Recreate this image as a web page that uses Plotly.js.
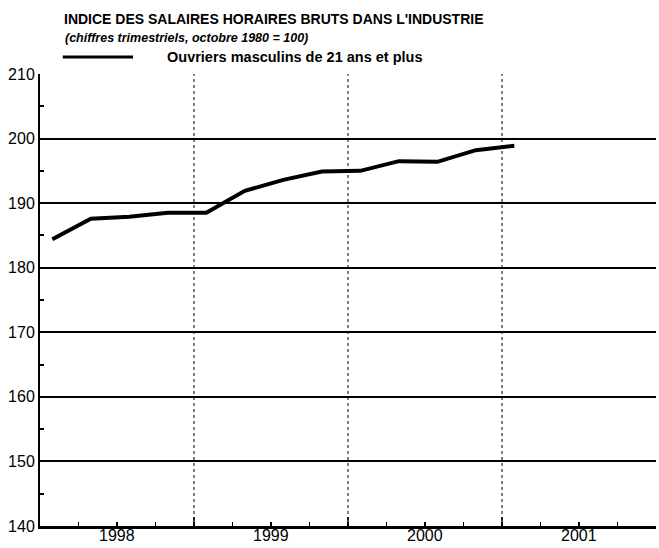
<!DOCTYPE html>
<html><head><meta charset="utf-8">
<script src="https://cdn.plot.ly/plotly-3.0.1.min.js"></script>
<style>html,body{margin:0;padding:0;background:#fff}#chart{width:659px;height:548px}</style>
</head><body><div id="chart"></div>
<script>
// Quarterly positions (decimal years) and index values (octobre 1980 = 100)
const quarters = [1998.08, 1998.33, 1998.58, 1998.83, 1999.08, 1999.33, 1999.58, 1999.83, 2000.08, 2000.33, 2000.58, 2000.83, 2001.08];
const ouvriers = [184.4, 187.6, 187.9, 188.5, 188.5, 191.9, 193.6, 194.9, 195.0, 196.5, 196.4, 198.2, 198.9];
const yearLabels = ['1998', '1999', '2000', '2001'];
const yearLabelPos = [1998.5, 1999.5, 2000.5, 2001.5];
const yearBounds = [1999, 2000, 2001];

const titleText = "INDICE DES SALAIRES HORAIRES BRUTS DANS L'INDUSTRIE";
const subtitleText = "(chiffres trimestriels, octobre 1980 = 100)";
const seriesName = "Ouvriers masculins de 21 ans et plus";

const sans = "'Liberation Sans', Arial, sans-serif";

const trace = {
  x: quarters, y: ouvriers, type: 'scatter', mode: 'lines',
  line: {color: '#000', width: 4}, name: seriesName, showlegend: false, hoverinfo: 'skip'
};

const shapes = [];
yearBounds.forEach(v => {
  shapes.push({type: 'line', xref: 'x', yref: 'y', x0: v, x1: v, y0: 140, y1: 210,
    line: {color: '#000', width: 1, dash: 'dot'}});
  shapes.push({type: 'line', xref: 'x', yref: 'paper', x0: v, x1: v, y0: 0, y1: 9 / 452,
    line: {color: '#000', width: 1.5}});
});
shapes.push({type: 'line', xref: 'paper', yref: 'paper', x0: 0.037, x1: 0.151,
  y0: 1 + 17 / 452, y1: 1 + 17 / 452, line: {color: '#000', width: 3}});

const annotations = [
  {text: '<b>' + titleText + '</b>', xref: 'paper', yref: 'paper', x: 0.035, y: 1.0, yshift: 55, xanchor: 'left', yanchor: 'middle',
   showarrow: false, font: {family: sans, size: 14, color: '#000'}},
  {text: '<b><i>' + subtitleText + '</i></b>', xref: 'paper', yref: 'paper', x: 0.037, y: 1.0, yshift: 36, xanchor: 'left', yanchor: 'middle',
   showarrow: false, font: {family: sans, size: 12.5, color: '#000'}},
  {text: '<b>' + seriesName + '</b>', xref: 'paper', yref: 'paper', x: 0.203, y: 1.0, yshift: 17, xanchor: 'left', yanchor: 'middle',
   showarrow: false, font: {family: sans, size: 14.5, color: '#000'}}
];
yearLabels.forEach((t, i) => annotations.push({
  text: t, xref: 'x', yref: 'paper', x: yearLabelPos[i], y: 0, yshift: -9, xanchor: 'center', yanchor: 'middle',
  showarrow: false, font: {family: sans, size: 16, color: '#000'}
}));

const layout = {
  width: 659, height: 548,
  margin: {l: 40, r: 3, t: 74, b: 22},
  paper_bgcolor: '#fff', plot_bgcolor: '#fff',
  showlegend: false,
  xaxis: {
    range: [1998, 2002], tickvals: yearLabelPos, ticktext: yearLabels, showticklabels: false,
    ticks: 'inside', ticklen: 4, tickwidth: 1.5, tickcolor: '#000',
    minor: {tick0: 1998, dtick: 0.25, ticks: 'inside', ticklen: 4, tickwidth: 1.5, tickcolor: '#000', showgrid: false},
    showgrid: false, zeroline: false, showline: true, linecolor: '#000', linewidth: 3, fixedrange: true
  },
  yaxis: {
    range: [140, 210], dtick: 10, tick0: 140,
    ticks: 'inside', ticklen: 4, tickwidth: 2, tickcolor: '#000',
    minor: {dtick: 5, tick0: 140, ticks: 'inside', ticklen: 4, tickwidth: 2, tickcolor: '#000', showgrid: false},
    showgrid: true, gridcolor: '#000', gridwidth: 2,
    zeroline: false, showline: true, linecolor: '#000', linewidth: 2,
    tickfont: {family: sans, size: 16, color: '#000'}, fixedrange: true
  },
  shapes: shapes,
  annotations: annotations
};

Plotly.newPlot('chart', [trace], layout, {displayModeBar: false, staticPlot: true});
</script></body></html>
